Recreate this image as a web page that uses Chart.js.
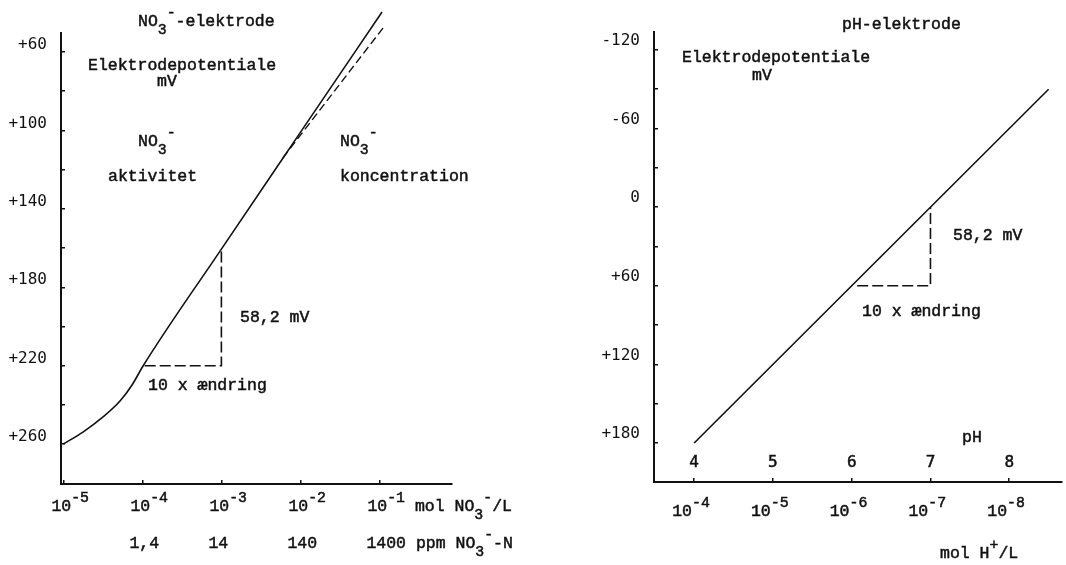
<!DOCTYPE html>
<html>
<head>
<meta charset="utf-8">
<script src="https://cdn.jsdelivr.net/npm/chart.js@4"></script>
<style>
html, body { margin: 0; padding: 0; background: #fff; }
#wrap { position: relative; width: 1066px; height: 565px; }
.box { position: absolute; top: 0; width: 533px; height: 565px; }
</style>
</head>
<body>
<div id="wrap">
  <div class="box" style="left:0"><canvas id="no3Chart"></canvas></div>
  <div class="box" style="left:533px"><canvas id="phChart"></canvas></div>
</div>
<script>
// NO3- electrode: potential (mV) vs nitrate activity (mol/L)
const no3Conc = [1e-5, 1.77e-5, 3.18e-5, 5.21e-5, 7.4e-5, 1.02e-4, 1e-3, 1e-2, 1.08e-1];
const no3Activity = [259.9, 253.8, 246.1, 238.0, 229.8, 220.1, 160.5, 101, 39.6];
const no3DashConc = [6.0e-3, 1.11e-1];
const no3DashMv = [114, 47.8];
const no3SlopeConc = [1.07e-4, 1e-3, 1e-3];
const no3SlopeMv = [220, 220, 160.5];
const no3XTicks = [1e-5, 1e-4, 1e-3, 1e-2, 1e-1];
const no3MolLabels = ['10^{-5}', '10^{-4}', '10^{-3}', '10^{-2}', '10^{-1} mol NO_{3}^{-}/L'];
const no3PpmLabels = ['', '1,4', '14', '140', '1400 ppm NO_{3}^{-}-N'];
const no3YTicks = [60, 80, 100, 120, 140, 160, 180, 200, 220, 240, 260];
const no3YLabels = ['+60', '', '+100', '', '+140', '', '+180', '', '+220', '', '+260'];

// pH electrode
const phValues = [4, 8.5];
const phMv = [180, -90];
const phSlopeX = [6.07, 7, 7];
const phSlopeMv = [60, 60, 0];
const phXTicks = [4, 5, 6, 7, 8];
const phTickLabels = ['4', '5', '6', '7', '8'];
const phMolLabels = ['10^{-4}', '10^{-5}', '10^{-6}', '10^{-7}', '10^{-8}'];
const phYTicks = [-120, -90, -60, -30, 0, 30, 60, 90, 120, 150, 180];
const phYLabels = ['-120', '', '-60', '', '0', '', '+60', '', '+120', '', '+180'];

const INK = '#111';
const MONO = 'Liberation Mono';
const SIZE = 16.5;

// draws text with _{sub} and ^{sup} parts, typewriter style
function richText(ctx, str, x, y, size, font, align) {
    const segs = [];
    let i = 0;
    while (i < str.length) {
        if ((str[i] === '_' || str[i] === '^') && str[i + 1] === '{') {
            const end = str.indexOf('}', i);
            segs.push({ t: str.slice(i + 2, end), k: str[i] });
            i = end + 1;
        } else {
            let j = i;
            while (j < str.length && !((str[j] === '_' || str[j] === '^') && str[j + 1] === '{')) j++;
            segs.push({ t: str.slice(i, j), k: '' });
            i = j;
        }
    }
    const small = size * 0.9;
    let total = 0;
    segs.forEach(s => {
        ctx.font = (s.k ? small : size) + 'px "' + font + '"';
        s.w = ctx.measureText(s.t).width;
        total += s.w;
    });
    let cx = align === 'center' ? x - total / 2 : x;
    ctx.textAlign = 'left';
    ctx.textBaseline = 'middle';
    ctx.fillStyle = INK;
    ctx.strokeStyle = INK;
    ctx.lineWidth = 0.5;
    segs.forEach(s => {
        ctx.font = (s.k ? small : size) + 'px "' + font + '"';
        let dy = 0;
        if (s.k === '_') dy = size * 0.5;
        if (s.k === '^') dy = -size * 0.55;
        ctx.fillText(s.t, cx, y + dy);
        ctx.strokeText(s.t, cx, y + dy);
        cx += s.w;
    });
}

function textPlugin(texts, tickRows) {
    return {
        id: 'texts',
        afterDraw(chart) {
            const ctx = chart.ctx;
            ctx.save();
            texts.forEach(t => richText(ctx, t.text, t.x, t.y, t.size || SIZE, t.font || MONO, t.align));
            tickRows.forEach(row => {
                row.values.forEach((v, k) => {
                    if (!row.labels[k]) return;
                    const px = chart.scales.x.getPixelForValue(v) + row.dx;
                    richText(ctx, row.labels[k], px, row.y, row.size || SIZE, row.font || MONO, row.align);
                });
            });
            ctx.restore();
        }
    };
}

function pts(xs, ys) {
    return xs.map((x, i) => ({ x: x, y: ys[i] }));
}

const axisGrid = { drawOnChartArea: false, tickLength: -4, color: INK, lineWidth: 1.5 };
const axisBorder = { color: INK, width: 2 };

new Chart(document.getElementById('no3Chart'), {
    type: 'line',
    data: {
        datasets: [
            { data: pts(no3Conc, no3Activity), borderColor: INK, borderWidth: 1.6, pointRadius: 0, cubicInterpolationMode: 'monotone', clip: false },
            { data: pts(no3DashConc, no3DashMv), borderColor: INK, borderWidth: 1.4, borderDash: [8, 4], pointRadius: 0, clip: false },
            { data: pts(no3SlopeConc, no3SlopeMv), borderColor: INK, borderWidth: 1.6, borderDash: [11, 4], pointRadius: 0 }
        ]
    },
    options: {
        responsive: true,
        maintainAspectRatio: false,
        animation: false,
        layout: { padding: { top: 33, right: 81, left: 0, bottom: 0 } },
        plugins: { legend: { display: false }, tooltip: { enabled: false } },
        scales: {
            x: {
                type: 'logarithmic',
                min: 9.33e-6,
                max: 0.83,
                afterBuildTicks: s => { s.ticks = no3XTicks.map(v => ({ value: v })); },
                afterFit: s => { s.height = 81; },
                ticks: { display: false },
                grid: axisGrid,
                border: axisBorder
            },
            y: {
                reverse: true,
                min: 50.3,
                max: 280.3,
                afterBuildTicks: s => { s.ticks = no3YTicks.map(v => ({ value: v })); },
                afterFit: s => { s.width = 61; },
                ticks: {
                    autoSkip: false,
                    padding: 18,
                    labelOffset: -7,
                    color: INK,
                    font: { family: 'DejaVu Sans Mono', size: 16 },
                    callback: v => no3YLabels[no3YTicks.indexOf(v)]
                },
                grid: axisGrid,
                border: axisBorder
            }
        }
    },
    plugins: [textPlugin([
        { text: 'NO_{3}^{-}-elektrode', x: 138, y: 22 },
        { text: 'Elektrodepotentiale', x: 88, y: 66 },
        { text: 'mV', x: 157, y: 82 },
        { text: 'NO_{3}^{-}', x: 138, y: 142 },
        { text: 'aktivitet', x: 108, y: 177 },
        { text: 'NO_{3}^{-}', x: 340, y: 142 },
        { text: 'koncentration', x: 340, y: 177 },
        { text: '58,2 mV', x: 240, y: 318 },
        { text: '10 x ændring', x: 148, y: 386 }
    ], [
        { values: no3XTicks, labels: no3MolLabels, dx: -12, y: 507 },
        { values: no3XTicks, labels: no3PpmLabels, dx: -13, y: 544 }
    ])]
});

new Chart(document.getElementById('phChart'), {
    type: 'line',
    data: {
        datasets: [
            { data: pts(phValues, phMv), borderColor: INK, borderWidth: 1.6, pointRadius: 0, clip: false },
            { data: pts(phSlopeX, phSlopeMv), borderColor: INK, borderWidth: 1.6, borderDash: [11, 4], pointRadius: 0 }
        ]
    },
    options: {
        responsive: true,
        maintainAspectRatio: false,
        animation: false,
        layout: { padding: { top: 32, right: 4, left: 0, bottom: 0 } },
        plugins: { legend: { display: false }, tooltip: { enabled: false } },
        scales: {
            x: {
                type: 'linear',
                min: 3.49,
                max: 8.67,
                afterBuildTicks: s => { s.ticks = phXTicks.map(v => ({ value: v })); },
                afterFit: s => { s.height = 83; },
                ticks: { display: false },
                grid: axisGrid,
                border: axisBorder
            },
            y: {
                reverse: true,
                min: -133.7,
                max: 209.8,
                afterBuildTicks: s => { s.ticks = phYTicks.map(v => ({ value: v })); },
                afterFit: s => { s.width = 121; },
                ticks: {
                    autoSkip: false,
                    padding: 18,
                    labelOffset: -9,
                    color: INK,
                    font: { family: 'DejaVu Sans Mono', size: 16 },
                    callback: v => phYLabels[phYTicks.indexOf(v)]
                },
                grid: axisGrid,
                border: axisBorder
            }
        }
    },
    plugins: [textPlugin([
        { text: 'pH-elektrode', x: 309, y: 25 },
        { text: 'Elektrodepotentiale', x: 149, y: 58 },
        { text: 'mV', x: 219, y: 76 },
        { text: '58,2 mV', x: 420, y: 236 },
        { text: '10 x ændring', x: 329, y: 312 },
        { text: 'pH', x: 429, y: 438 },
        { text: 'mol H^{+}/L', x: 407, y: 554 }
    ], [
        { values: phXTicks, labels: phTickLabels, dx: 0, y: 463, align: 'center', font: 'DejaVu Sans Mono', size: 16 },
        { values: phXTicks, labels: phMolLabels, dx: -22, y: 512 }
    ])]
});
</script>
</body>
</html>
